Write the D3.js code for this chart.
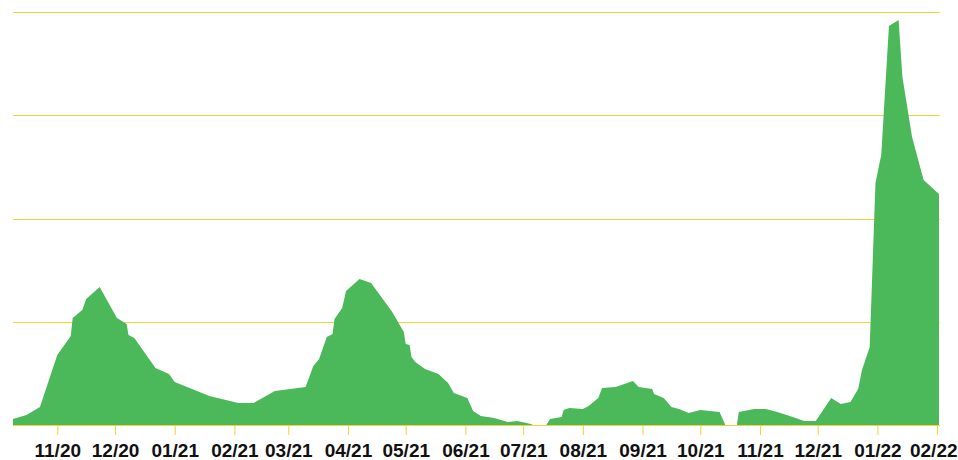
<!DOCTYPE html>
<html>
<head>
<meta charset="utf-8">
<script src="https://cdn.jsdelivr.net/npm/d3@7"></script>
<style>
  html, body { margin: 0; padding: 0; background: #fff; }
  svg { display: block; }
  .tick text { font-family: "Liberation Sans", Arial, Helvetica, sans-serif; font-weight: bold; font-size: 19px; fill: #111; }
</style>
</head>
<body>
<div id="chart"></div>
<script>
// weekly-ish values
const dates = [
  "2020-10-09", "2020-10-16", "2020-10-23", "2020-11-01", "2020-11-08", "2020-11-09",
  "2020-11-14", "2020-11-16", "2020-11-23", "2020-12-02", "2020-12-07", "2020-12-08",
  "2020-12-11", "2020-12-22", "2020-12-29", "2021-01-01", "2021-01-19", "2021-02-03",
  "2021-02-11", "2021-02-22", "2021-03-10", "2021-03-14", "2021-03-17", "2021-03-21",
  "2021-03-24", "2021-03-25", "2021-03-29", "2021-03-31", "2021-04-07", "2021-04-13",
  "2021-04-24", "2021-04-30", "2021-05-01", "2021-05-03", "2021-05-04", "2021-05-06",
  "2021-05-11", "2021-05-18", "2021-05-23", "2021-05-26", "2021-06-02", "2021-06-05",
  "2021-06-09", "2021-06-16", "2021-06-23", "2021-06-28", "2021-07-05", "2021-07-06",
  "2021-07-13", "2021-07-15", "2021-07-21", "2021-07-22", "2021-07-25", "2021-08-01",
  "2021-08-04", "2021-08-09", "2021-08-11", "2021-08-18", "2021-08-27", "2021-08-30",
  "2021-09-06", "2021-09-07", "2021-09-12", "2021-09-16", "2021-09-20", "2021-09-25",
  "2021-10-01", "2021-10-11", "2021-10-14", "2021-10-20", "2021-10-21", "2021-10-29",
  "2021-11-04", "2021-11-10", "2021-11-18", "2021-11-24", "2021-11-30", "2021-12-08",
  "2021-12-13", "2021-12-18", "2021-12-22", "2021-12-24", "2021-12-28", "2021-12-31",
  "2022-01-03", "2022-01-07", "2022-01-12", "2022-01-14", "2022-01-19", "2022-01-25",
  "2022-02-02"
];
const values = [
  58, 97, 174, 678, 862, 1036,
  1114, 1220, 1337, 1036, 978, 872,
  843, 552, 494, 416, 281, 213,
  213, 329, 368, 571, 639, 852,
  881, 1027, 1133, 1298, 1414, 1375,
  1094, 901, 785, 775, 659, 610,
  542, 494, 407, 310, 261, 136,
  87, 68, 29, 39, 10, 0,
  0, 58, 77, 145, 165, 155,
  184, 261, 358, 368, 426, 368,
  349, 300, 261, 174, 155, 116,
  145, 126, 0, 0, 126, 155,
  155, 126, 77, 39, 39, 261,
  203, 223, 349, 533, 755, 2344,
  2615, 3864, 3922, 3370, 2789, 2373,
  2237
];
const gridValues = [0, 1000, 2000, 3000, 4000];
const tickLabels = ["11/20", "12/20", "01/21", "02/21", "03/21", "04/21", "05/21", "06/21",
  "07/21", "08/21", "09/21", "10/21", "11/21", "12/21", "01/22", "02/22"];

const width = 958, height = 460;
const parse = d3.utcParse("%Y-%m-%d");
const data = dates.map((d, i) => ({ date: parse(d), value: values[i] }));
const tickDates = tickLabels.map(t => d3.utcParse("%m/%y")(t));

const svg = d3.select("#chart").append("svg")
  .attr("width", width)
  .attr("height", height);

const x = d3.scaleUtc()
  .domain(d3.extent(data, d => d.date))
  .range([13, 939]);

const y = d3.scaleLinear()
  .domain([0, 4000])
  .range([425, 12]);

// horizontal grid
svg.append("g")
  .selectAll("line")
  .data(gridValues)
  .enter().append("line")
  .attr("x1", 13)
  .attr("x2", 940)
  .attr("y1", d => Math.round(y(d)) + 0.5)
  .attr("y2", d => Math.round(y(d)) + 0.5)
  .attr("stroke", "#f7d137")
  .attr("stroke-width", 1);

const area = d3.area()
  .x(d => x(d.date))
  .y0(y(0))
  .y1(d => y(d.value));

svg.append("path")
  .datum(data)
  .attr("fill", "#4bb859")
  .attr("d", area);

const xAxis = d3.axisBottom(x)
  .tickValues(tickDates)
  .tickSize(10)
  .tickFormat(d3.utcFormat("%m/%y"));

const gx = svg.append("g")
  .attr("transform", "translate(0," + y(0) + ")")
  .call(xAxis);

gx.select(".domain").remove();
gx.selectAll(".tick line").attr("stroke", "#f7d137");
gx.selectAll(".tick text")
  .attr("y", 32)
  .attr("dy", 0)
  .each(function () {
    // keep the last label inside the frame
    const t = d3.select(this);
    const tx = x(d3.select(this.parentNode).datum());
    const half = this.getComputedTextLength() / 2;
    if (tx + half > width - 1) t.attr("x", width - 1 - half - tx);
  });
</script>
</body>
</html>
